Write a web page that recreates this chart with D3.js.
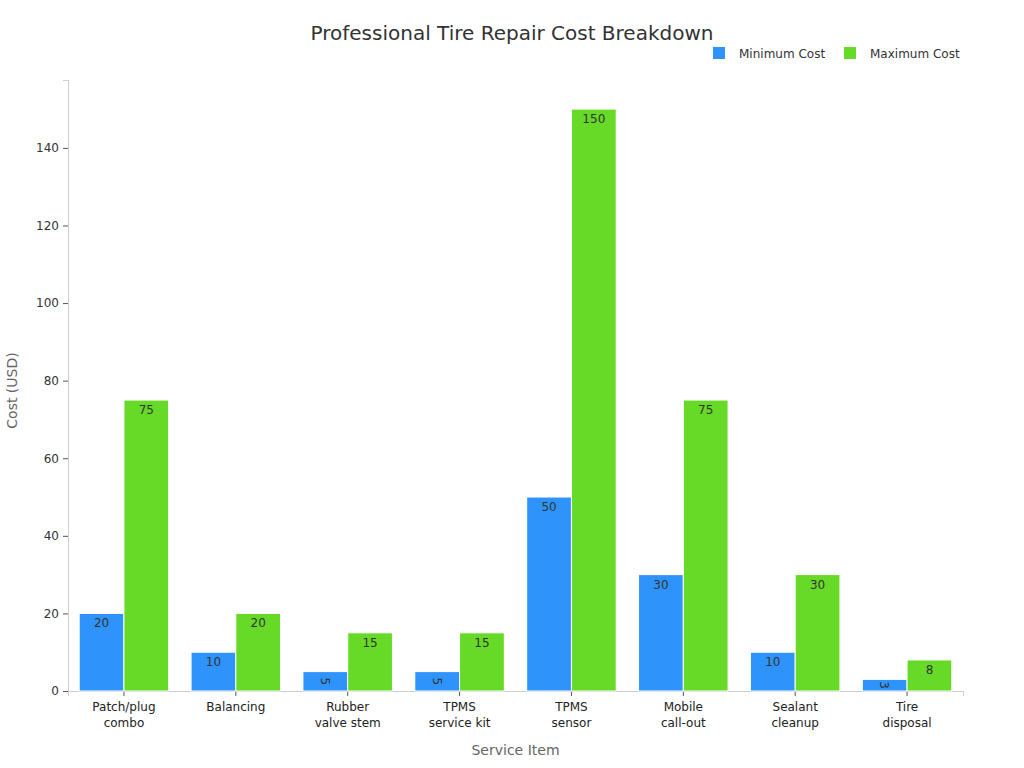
<!DOCTYPE html>
<html>
<head>
<meta charset="utf-8">
<script src="https://cdn.jsdelivr.net/npm/d3@7"></script>
<style>
  body { margin: 0; background: #fff; font-family: "DejaVu Sans", sans-serif; }
</style>
</head>
<body>
<div id="chart"></div>
<script>
// Data
const categories = [
  ["Patch/plug", "combo"],
  ["Balancing"],
  ["Rubber", "valve stem"],
  ["TPMS", "service kit"],
  ["TPMS", "sensor"],
  ["Mobile", "call-out"],
  ["Sealant", "cleanup"],
  ["Tire", "disposal"]
];
const seriesNames = ["Minimum Cost", "Maximum Cost"];
const minCost = [20, 10, 5, 5, 50, 30, 10, 3];
const maxCost = [75, 20, 15, 15, 150, 75, 30, 8];
const yTicks = [0, 20, 40, 60, 80, 100, 120, 140];

const colors = ["#2E93FA", "#66DA26"];

const width = 1024, height = 768;
const margin = {top: 80, right: 61, bottom: 77, left: 68};
const innerW = width - margin.left - margin.right,
  innerH = height - margin.top - margin.bottom;

const svg = d3.select("#chart").append("svg")
  .attr("width", width)
  .attr("height", height);

const keys = categories.map(function(c, i) { return i; });

const x0 = d3.scaleBand()
  .domain(keys)
  .range([0, innerW])
  .paddingInner(0.2)
  .paddingOuter(0.1);
const x1 = d3.scaleBand()
  .domain([0, 1])
  .range([0, x0.bandwidth()]);
const y = d3.scaleLinear()
  .domain([0, 157.5])
  .range([innerH, 0]);

const g = svg.append("g")
  .attr("transform", "translate(" + margin.left + "," + margin.top + ")");

// title
svg.append("text")
  .attr("x", 512).attr("y", 40)
  .attr("text-anchor", "middle")
  .style("font-size", "20px")
  .style("fill", "#333")
  .text("Professional Tire Repair Cost Breakdown");

// legend
const legend = svg.append("g").attr("transform", "translate(713,47)");
const legX = [0, 131];
seriesNames.forEach(function(name, i) {
  legend.append("rect")
    .attr("x", legX[i]).attr("y", 0)
    .attr("width", 12).attr("height", 12)
    .style("fill", colors[i]);
  legend.append("text")
    .attr("x", legX[i] + 26).attr("y", 10.5)
    .style("font-size", "12px")
    .style("fill", "#333")
    .text(name);
});

// y axis
const yAxis = g.append("g")
  .call(d3.axisLeft(y).tickValues(yTicks).tickSize(5).tickPadding(4));
yAxis.select(".domain").style("stroke", "#ccc");
yAxis.selectAll(".tick line").style("stroke", "#555");
yAxis.selectAll("text").style("font-size", "12px").style("fill", "#333")
  .style("font-family", "DejaVu Sans, sans-serif");

// x axis
const xAxis = g.append("g")
  .attr("transform", "translate(0," + innerH + ")")
  .call(d3.axisBottom(x0).tickSize(5).tickPadding(6).tickFormat(""));
xAxis.select(".domain").style("stroke", "#ccc");
xAxis.selectAll(".tick line").style("stroke", "#555");
xAxis.selectAll(".tick").each(function(d) {
  const t = d3.select(this).append("text")
    .attr("y", 20)
    .attr("text-anchor", "middle")
    .style("font-size", "12px")
    .style("fill", "#222")
    .style("font-family", "DejaVu Sans, sans-serif");
  categories[d].forEach(function(line, j) {
    t.append("tspan").attr("x", 0).attr("dy", j === 0 ? 0 : 16).text(line);
  });
});

// bars
const series = [minCost, maxCost];
const groups = g.selectAll(".grp")
  .data(keys)
  .enter()
  .append("g")
  .attr("class", "grp")
  .attr("transform", function(d) { return "translate(" + x0(d) + ",0)"; });

series.forEach(function(vals, s) {
  groups.append("rect")
    .attr("x", x1(s))
    .attr("y", function(d) { return y(vals[d]); })
    .attr("width", x1.bandwidth())
    .attr("height", function(d) { return innerH - y(vals[d]); })
    .style("fill", colors[s])
    .style("stroke", "#fff")
    .style("stroke-width", 1);

  groups.append("text")
    .attr("transform", function(d) {
      const cx = x1(s) + x1.bandwidth() / 2;
      const h = innerH - y(vals[d]);
      if (h < 22) {
        return "translate(" + cx + "," + (y(vals[d]) + h / 2) + ") rotate(90)";
      }
      return "translate(" + cx + "," + (y(vals[d]) + 14) + ")";
    })
    .attr("text-anchor", "middle")
    .attr("dy", function(d) { return (innerH - y(vals[d])) < 22 ? "0.35em" : "0"; })
    .style("font-size", "12px")
    .style("fill", "#333")
    .text(function(d) { return vals[d]; });
});

// axis titles
svg.append("text")
  .attr("transform", "translate(17," + (margin.top + innerH / 2 + 5) + ") rotate(-90)")
  .attr("text-anchor", "middle")
  .style("font-size", "14px")
  .style("fill", "#666")
  .text("Cost (USD)");

svg.append("text")
  .attr("x", margin.left + innerW / 2)
  .attr("y", 755)
  .attr("text-anchor", "middle")
  .style("font-size", "14px")
  .style("fill", "#666")
  .text("Service Item");
</script>
</body>
</html>
